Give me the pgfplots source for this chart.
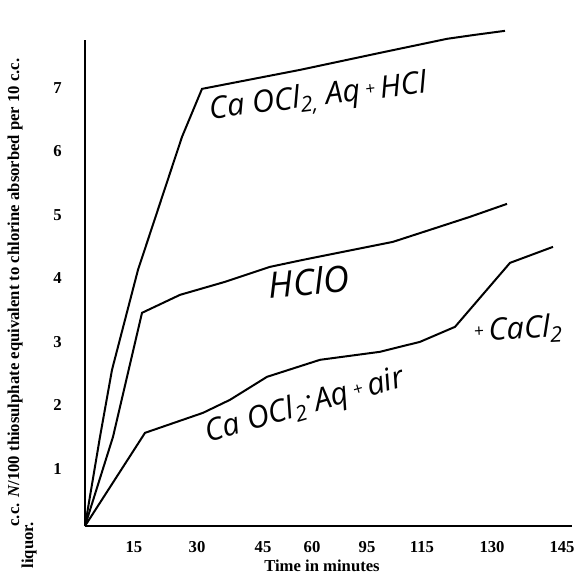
\documentclass[border=0pt]{standalone}
\usepackage{pgfplots}
\pgfplotsset{compat=1.18}
\usepackage{fontspec}
\setmainfont{Liberation Serif}
\newfontfamily\hand{Open Sans}
\newcommand{\hf}{\hand\itshape\fontsize{23}{26}\selectfont}
\newcommand{\pl}{{\fontsize{13}{13}\selectfont\raisebox{3pt}{+}}}
\begin{document}
\begin{tikzpicture}
\begin{axis}[
  scale only axis, width=365.25pt, height=364.8pt,
  xmin=0, xmax=487, ymin=0.1, ymax=7.76,
  axis x line=bottom, axis y line=left,
  axis line style={line width=2pt, -},
  major tick length=0pt,
  xtick={49,112,178,227,282,337,407,477},
  xticklabels={15,30,45,60,95,115,130,145},
  ytick={1,2,3,4,5,6,7},
  yticklabels={1,2,3,4,5,6,7},
  tick label style={font=\fontsize{12.5}{14}\selectfont\bfseries},
  xticklabel style={yshift=-8pt},
  yticklabel style={xshift=-14pt},
  clip=false,
]
% CaOCl2 Aq + HCl
\addplot[black, line width=1.5pt] coordinates {
(0,0.1) (15,1.504) (27,2.559) (53,4.134) (97,6.228) (117,6.984)
(215,7.283) (295,7.551) (362,7.772) (390,7.835) (420,7.898)};
% HClO
\addplot[black, line width=1.5pt] coordinates {
(0,0.1) (28,1.504) (57,3.457) (95,3.740) (140,3.945) (185,4.181)
(218,4.291) (268,4.449) (308,4.575) (345,4.764) (385,4.969) (422,5.173)};
% CaOCl2 Aq + air
\addplot[black, line width=1.5pt] coordinates {
(0,0.1) (60,1.567) (118,1.882) (145,2.087) (182,2.449) (235,2.717)
(295,2.843) (335,3.0) (370,3.236) (425,4.244) (468,4.496)};

\node[rotate=7] at (axis cs:233,6.84) {\hf Ca OCl\textsubscript{2,} Aq\,\pl\,HCl};
\node[rotate=5] at (axis cs:224,3.95) {\hand\itshape\fontsize{27}{30}\selectfont HClO};
\node[rotate=16] at (axis cs:220,1.98) {\hf Ca OCl\textsubscript{2}\raisebox{6pt}{$\cdot$}Aq\,\pl\,air};
\node[rotate=3] at (axis cs:433,3.19) {\hf\pl\,CaCl\textsubscript{2}};

\node[font=\fontsize{12.5}{14}\selectfont\bfseries] at (axis cs:237,-0.53) {Time in minutes};
\node[rotate=90, anchor=south west, inner sep=0pt, font=\fontsize{12.5}{14}\selectfont\bfseries] at (axis cs:-62,0.087) {c.c. \textit{N}/100 thiosulphate equivalent to chlorine absorbed per 10 c.c.};
\node[rotate=90, anchor=south west, inner sep=0pt, font=\fontsize{12.5}{14}\selectfont\bfseries] at (axis cs:-48,-0.57) {liquor.};
\coordinate (O) at (axis cs:0,0.1);
\end{axis}
\pgfresetboundingbox
\path[use as bounding box] ([shift={(-63.75pt,-36.75pt)}]O) rectangle ([shift={(372.75pt,394.5pt)}]O);
\end{tikzpicture}
\end{document}
